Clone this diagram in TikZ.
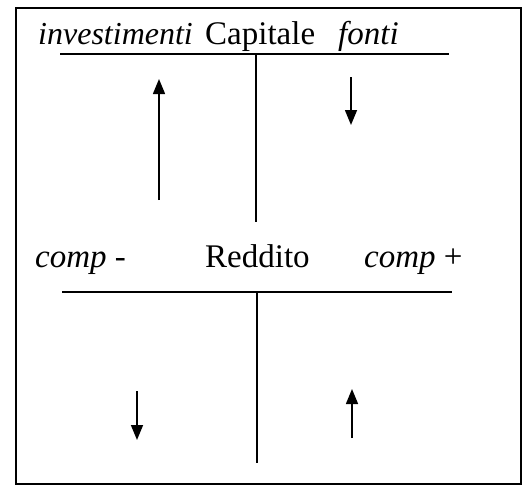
\documentclass[tikz,border=0pt]{standalone}
\usepackage{fontspec}
\setmainfont{Liberation Serif}
\usetikzlibrary{arrows.meta}
\begin{document}
\begin{tikzpicture}[x=1pt,y=-1pt,
  lbl/.style={anchor=base west,inner sep=0pt,font=\fontsize{33}{38}\selectfont},
  rule/.style={line width=1.5pt},
  frame/.style={line width=1.4pt},
  flow/.style={line width=1.5pt,-{Triangle[width=12pt,length=15pt]}}]
\useasboundingbox (0,0) rectangle (527,485);
% frame
\draw[frame] (16,8) rectangle (521,484);
% top row texts
\node[lbl,font=\fontsize{32}{38}\selectfont] (inv) at (38,44) {\itshape investimenti};
\node[lbl] (cap) at (205,44) {Capitale};
\node[lbl] (fon) at (338,44) {\itshape fonti};
% top T
\coordinate (t1) at (60,54);
\coordinate (t2) at (449,54);
\coordinate (tm) at (256,54);
\coordinate (tb) at (256,222);
\draw[rule] (t1) -- (t2);
\draw[rule] (tm) -- (tb);
% top arrows
\coordinate (a1s) at (159,200);
\coordinate (a1e) at (159,79);
\coordinate (a2s) at (351,77);
\coordinate (a2e) at (351,125);
\draw[flow] (a1s) -- (a1e);
\draw[flow] (a2s) -- (a2e);
% middle row texts
\node[lbl] (cm) at (35,267) {\itshape comp\/ -};
\node[lbl] (red) at (205,267) {Reddito};
\node[lbl] (cp) at (364,267) {\itshape comp\/ \upshape +};
% lower T
\coordinate (b1) at (62,292);
\coordinate (b2) at (452,292);
\coordinate (bm) at (257,292);
\coordinate (bb) at (257,463);
\draw[rule] (b1) -- (b2);
\draw[rule] (bm) -- (bb);
% lower arrows
\coordinate (a3s) at (137,391);
\coordinate (a3e) at (137,440);
\coordinate (a4s) at (352,438);
\coordinate (a4e) at (352,389);
\draw[flow] (a3s) -- (a3e);
\draw[flow] (a4s) -- (a4e);
\end{tikzpicture}
\end{document}
